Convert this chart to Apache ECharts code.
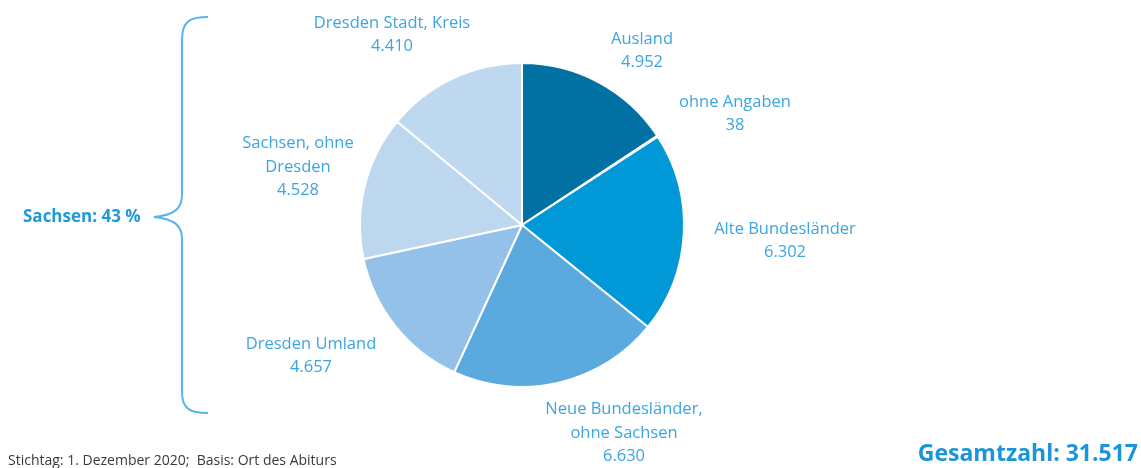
<!DOCTYPE html>
<html>
<head>
<meta charset="utf-8">
<script src="https://cdn.jsdelivr.net/npm/echarts@6/dist/echarts.min.js"></script>
<style>
  html, body { margin: 0; padding: 0; background: #fff; }
  #main { width: 1141px; height: 468px; }
</style>
</head>
<body>
<div id="main"></div>
<script>
// data, clockwise from 12 o'clock
var categories = ['Ausland', 'ohne Angaben', 'Alte Bundesländer', 'Neue Bundesländer,\nohne Sachsen',
  'Dresden Umland', 'Sachsen, ohne\nDresden', 'Dresden Stadt, Kreis'];
var values = [4952, 38, 6302, 6630, 4657, 4528, 4410];
var sliceColors = ['#0071a2', '#0090cc', '#0098d6', '#5aaae0', '#93c1ea', '#bdd7ef', '#bed8f0'];
var totalLabel = 'Gesamtzahl: 31.517';
var groupLabel = 'Sachsen: 43 %';
var footnote = 'Stichtag: 1. Dezember 2020;  Basis: Ort des Abiturs';

// label anchor points (centre of text block)
var labelPos = [[642, 51], [735, 114], [785, 241], [624, 433], [311, 356], [298, 167], [392, 35]];

function fmt(v) {
  return String(v).replace(/\B(?=(\d{3})+(?!\d))/g, '.');
}

var chart = echarts.init(document.getElementById('main'));
var fontFam = '"Open Sans", "Noto Sans", sans-serif';
var braceStyle = { fill: 'none', stroke: '#5ab4e8', lineWidth: 2 };

// curly brace on the left, drawn from pieces
function curve(x1, y1, c1x, c1y, c2x, c2y, x2, y2) {
  return { type: 'bezierCurve', shape: { x1: x1, y1: y1, cpx1: c1x, cpy1: c1y, cpx2: c2x, cpy2: c2y, x2: x2, y2: y2 }, style: braceStyle };
}
function seg(x1, y1, x2, y2) {
  return { type: 'line', shape: { x1: x1, y1: y1, x2: x2, y2: y2 }, style: braceStyle };
}

var option = {
  animation: false,
  series: [{
    type: 'pie',
    center: [522, 225],
    radius: [0, 162],
    startAngle: 90,
    clockwise: true,
    avoidLabelOverlap: false,
    itemStyle: {
      borderColor: '#fff',
      borderWidth: 2
    },
    label: {
      show: true,
      position: 'outside',
      color: '#3aa5e2',
      fontFamily: fontFam,
      fontSize: 16.5,
      lineHeight: 23.5,
      align: 'center',
      formatter: function (p) {
        return p.name + '\n' + fmt(p.value);
      }
    },
    labelLine: { show: false },
    labelLayout: function (params) {
      var p = labelPos[params.dataIndex];
      return { x: p[0], y: p[1], align: 'center', verticalAlign: 'middle' };
    },
    data: categories.map(function (c, i) {
      return { name: c, value: values[i], itemStyle: { color: sliceColors[i] } };
    })
  }],
  graphic: [
    curve(208, 17, 190, 17, 182, 21, 182, 40),
    seg(182, 40, 182, 195),
    curve(182, 195, 182, 208, 175, 215, 154, 217),
    curve(154, 217, 175, 219, 182, 226, 182, 239),
    seg(182, 239, 182, 392),
    curve(182, 392, 182, 409, 190, 413, 208, 413),
    {
      type: 'text',
      left: 23,
      top: 209,
      style: {
        text: groupLabel,
        fill: '#1d9ad9',
        font: 'bold 17px ' + fontFam
      }
    },
    {
      type: 'text',
      left: 8,
      top: 454,
      style: {
        text: footnote,
        fill: '#3a3a3a',
        font: '14px ' + fontFam
      }
    },
    {
      type: 'text',
      right: 3,
      top: 443,
      style: {
        text: totalLabel,
        fill: '#1a95d8',
        font: 'bold 23px ' + fontFam
      }
    }
  ]
};

chart.setOption(option);
</script>
</body>
</html>
